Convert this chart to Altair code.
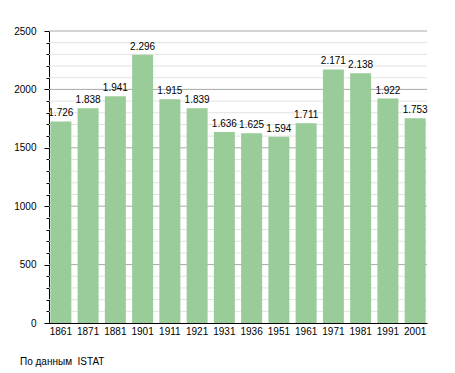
import altair as alt
import pandas as pd

years = ["1861", "1871", "1881", "1901", "1911", "1921", "1931", "1936", "1951", "1961", "1971", "1981", "1991", "2001"]
population = [1726, 1838, 1941, 2296, 1915, 1839, 1636, 1625, 1594, 1711, 2171, 2138, 1922, 1753]
labels = ["1.726", "1.838", "1.941", "2.296", "1.915", "1.839", "1.636", "1.625", "1.594", "1.711", "2.171", "2.138", "1.922", "1.753"]
grid_values = list(range(100, 2600, 100))

df = pd.DataFrame({"year": years, "pop": population, "label": labels})
minor_df = pd.DataFrame({"pop": [v for v in grid_values if v % 500 != 0]})
major_df = pd.DataFrame({"pop": [v for v in grid_values if v % 500 == 0]})

FONT = "Liberation Sans"
FS = 10

yscale = alt.Scale(domain=[0, 2500], nice=False)
xscale = alt.Scale(paddingInner=0.23, paddingOuter=0.05)

yaxis = alt.Axis(title=None, values=list(range(0, 2600, 100)),
                 labelExpr="datum.value % 500 == 0 ? datum.value : ''",
                 labelOverlap=False,
                 grid=False,
                 tickSize={"condition": {"test": "datum.value % 500 == 0", "value": 5}, "value": 3},
                 tickColor="#000000", domainColor="#000000",
                 labelColor="#000000", labelFont=FONT, labelFontSize=FS, labelPadding=8)

minor = alt.Chart(minor_df).mark_rule(color="#e2e2e2", strokeWidth=1).encode(
    y=alt.Y("pop:Q", scale=yscale, axis=yaxis)
)
major = alt.Chart(major_df).mark_rule(color="#a8a8a8", strokeWidth=1).encode(
    y=alt.Y("pop:Q", scale=yscale, axis=yaxis)
)

bars = alt.Chart(df).mark_bar(color="#99cc99").encode(
    x=alt.X("year:N", scale=xscale, sort=None,
            axis=alt.Axis(title=None, labelAngle=0, ticks=False, domainColor="#000000",
                          labelColor="#000000", labelFont=FONT, labelFontSize=FS, labelPadding=3)),
    y=alt.Y("pop:Q", scale=yscale, axis=yaxis),
)

text = alt.Chart(df).mark_text(dy=-8, font=FONT, fontSize=FS, color="#000000").encode(
    x=alt.X("year:N", scale=xscale, sort=None),
    y=alt.Y("pop:Q", scale=yscale, axis=yaxis),
    text="label:N",
)

chart = alt.layer(minor, major, bars, text).properties(
    width=378, height=292,
    autosize=alt.AutoSizeParams(type="none"),
    padding={"left": 41, "top": 23, "right": 20, "bottom": 60},
    title=alt.TitleParams("По данным\u00a0\u00a0ISTAT", orient="bottom", anchor="start", frame="group", dx=-29, offset=21,
                          font=FONT, fontSize=FS, fontWeight="normal", color="#000000"),
).configure_view(stroke=None)

chart.save("out.html", embed_options={"renderer": "svg", "actions": False})
